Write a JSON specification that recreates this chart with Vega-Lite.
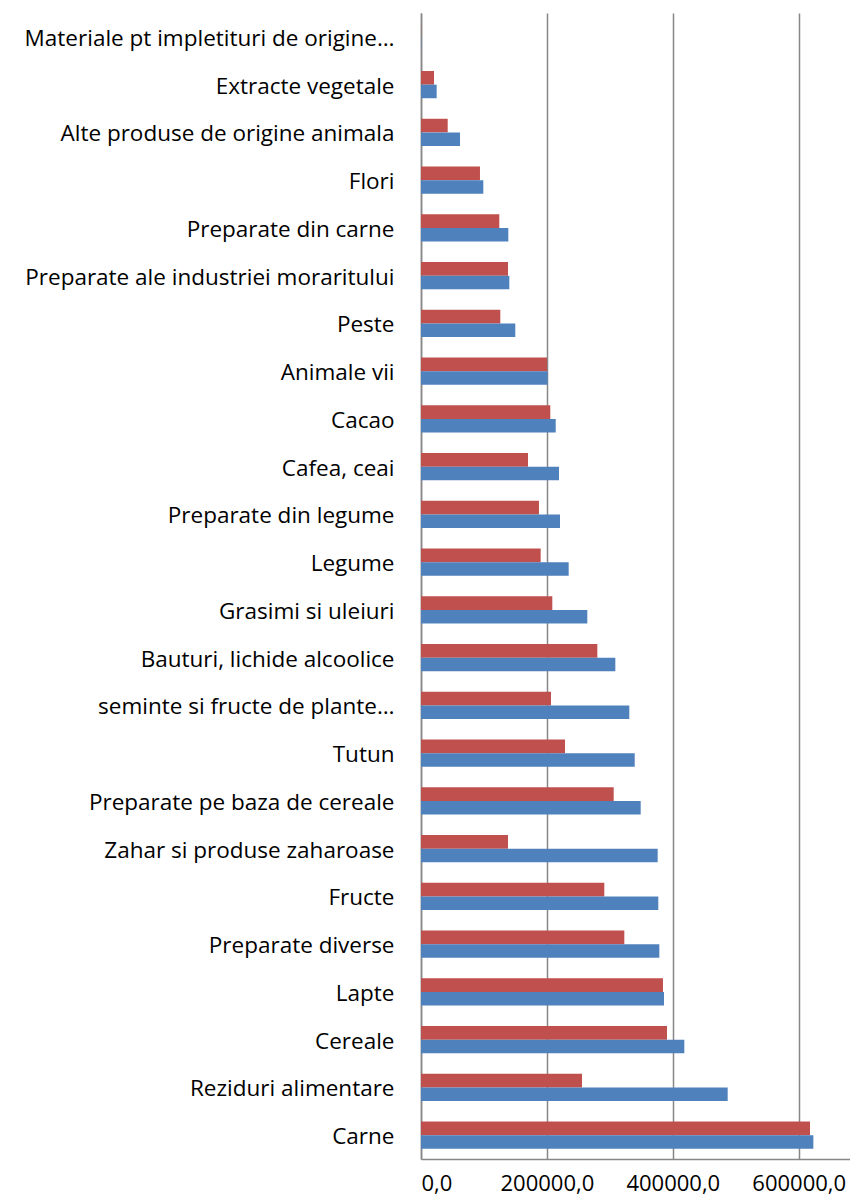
{
  "$schema": "https://vega.github.io/schema/vega-lite/v6.json",
  "width": 429,
  "height": 1146,
  "autosize": {"type": "none"},
  "padding": {"left": 421, "top": 13, "right": 0, "bottom": 43},
  "config": {"view": {"stroke": null}, "font": "Open Sans"},
  "data": {
    "values": [
      {"categorie": "Materiale pt impletituri de origine…", "serie": "Serie 2", "valoare": 200},
      {"categorie": "Materiale pt impletituri de origine…", "serie": "Serie 1", "valoare": 400},
      {"categorie": "Extracte vegetale", "serie": "Serie 2", "valoare": 20700},
      {"categorie": "Extracte vegetale", "serie": "Serie 1", "valoare": 24900},
      {"categorie": "Alte produse de origine animala", "serie": "Serie 2", "valoare": 42400},
      {"categorie": "Alte produse de origine animala", "serie": "Serie 1", "valoare": 62000},
      {"categorie": "Flori", "serie": "Serie 2", "valoare": 93700},
      {"categorie": "Flori", "serie": "Serie 1", "valoare": 99000},
      {"categorie": "Preparate din carne", "serie": "Serie 2", "valoare": 124400},
      {"categorie": "Preparate din carne", "serie": "Serie 1", "valoare": 138700},
      {"categorie": "Preparate ale industriei moraritului", "serie": "Serie 2", "valoare": 138200},
      {"categorie": "Preparate ale industriei moraritului", "serie": "Serie 1", "valoare": 140300},
      {"categorie": "Peste", "serie": "Serie 2", "valoare": 126000},
      {"categorie": "Peste", "serie": "Serie 1", "valoare": 149800},
      {"categorie": "Animale vii", "serie": "Serie 2", "valoare": 200200},
      {"categorie": "Animale vii", "serie": "Serie 1", "valoare": 201200},
      {"categorie": "Cacao", "serie": "Serie 2", "valoare": 205400},
      {"categorie": "Cacao", "serie": "Serie 1", "valoare": 214000},
      {"categorie": "Cafea, ceai", "serie": "Serie 2", "valoare": 170000},
      {"categorie": "Cafea, ceai", "serie": "Serie 1", "valoare": 219200},
      {"categorie": "Preparate din legume", "serie": "Serie 2", "valoare": 187400},
      {"categorie": "Preparate din legume", "serie": "Serie 1", "valoare": 220800},
      {"categorie": "Legume", "serie": "Serie 2", "valoare": 190100},
      {"categorie": "Legume", "serie": "Serie 1", "valoare": 234600},
      {"categorie": "Grasimi si uleiuri", "serie": "Serie 2", "valoare": 208600},
      {"categorie": "Grasimi si uleiuri", "serie": "Serie 1", "valoare": 264200},
      {"categorie": "Bauturi, lichide alcoolice", "serie": "Serie 2", "valoare": 280100},
      {"categorie": "Bauturi, lichide alcoolice", "serie": "Serie 1", "valoare": 308700},
      {"categorie": "seminte si fructe de plante…", "serie": "Serie 2", "valoare": 206500},
      {"categorie": "seminte si fructe de plante…", "serie": "Serie 1", "valoare": 330900},
      {"categorie": "Tutun", "serie": "Serie 2", "valoare": 228800},
      {"categorie": "Tutun", "serie": "Serie 1", "valoare": 339500},
      {"categorie": "Preparate pe baza de cereale", "serie": "Serie 2", "valoare": 306100},
      {"categorie": "Preparate pe baza de cereale", "serie": "Serie 1", "valoare": 349000},
      {"categorie": "Zahar si produse zaharoase", "serie": "Serie 2", "valoare": 138200},
      {"categorie": "Zahar si produse zaharoase", "serie": "Serie 1", "valoare": 376000},
      {"categorie": "Fructe", "serie": "Serie 2", "valoare": 291200},
      {"categorie": "Fructe", "serie": "Serie 1", "valoare": 377000},
      {"categorie": "Preparate diverse", "serie": "Serie 2", "valoare": 323000},
      {"categorie": "Preparate diverse", "serie": "Serie 1", "valoare": 378600},
      {"categorie": "Lapte", "serie": "Serie 2", "valoare": 384400},
      {"categorie": "Lapte", "serie": "Serie 1", "valoare": 386000},
      {"categorie": "Cereale", "serie": "Serie 2", "valoare": 390800},
      {"categorie": "Cereale", "serie": "Serie 1", "valoare": 418300},
      {"categorie": "Reziduri alimentare", "serie": "Serie 2", "valoare": 255800},
      {"categorie": "Reziduri alimentare", "serie": "Serie 1", "valoare": 487200},
      {"categorie": "Carne", "serie": "Serie 2", "valoare": 618000},
      {"categorie": "Carne", "serie": "Serie 1", "valoare": 623300}
    ]
  },
  "mark": {"type": "bar"},
  "encoding": {
    "y": {
      "field": "categorie",
      "type": "nominal",
      "sort": null,
      "scale": {"paddingInner": 0.43, "paddingOuter": 0.215},
      "axis": {
        "title": null,
        "domain": true,
        "domainColor": "#878787",
        "domainWidth": 1.5,
        "ticks": false,
        "grid": false,
        "labelFontSize": 22.5,
        "labelColor": "#000000",
        "labelPadding": 27,
        "labelLimit": 0,
        "labelOffset": 2
      }
    },
    "yOffset": {
      "field": "serie",
      "type": "nominal",
      "sort": ["Serie 2", "Serie 1"],
      "scale": {"paddingInner": 0, "paddingOuter": 0}
    },
    "x": {
      "field": "valoare",
      "type": "quantitative",
      "scale": {"domain": [0, 681500], "nice": false, "zero": true},
      "axis": {
        "title": null,
        "values": [0, 200000, 400000, 600000],
        "labelExpr": "replace(format(datum.value, '.1f'), '.', ',')",
        "grid": true,
        "gridColor": "#878787",
        "gridWidth": 1.5,
        "domain": true,
        "domainColor": "#878787",
        "domainWidth": 1.5,
        "ticks": false,
        "labelFontSize": 22,
        "labelColor": "#000000",
        "labelPadding": 14
      }
    },
    "color": {
      "field": "serie",
      "type": "nominal",
      "scale": {"domain": ["Serie 1", "Serie 2"], "range": ["#4F81BD", "#C0504D"]},
      "legend": null
    }
  }
}
